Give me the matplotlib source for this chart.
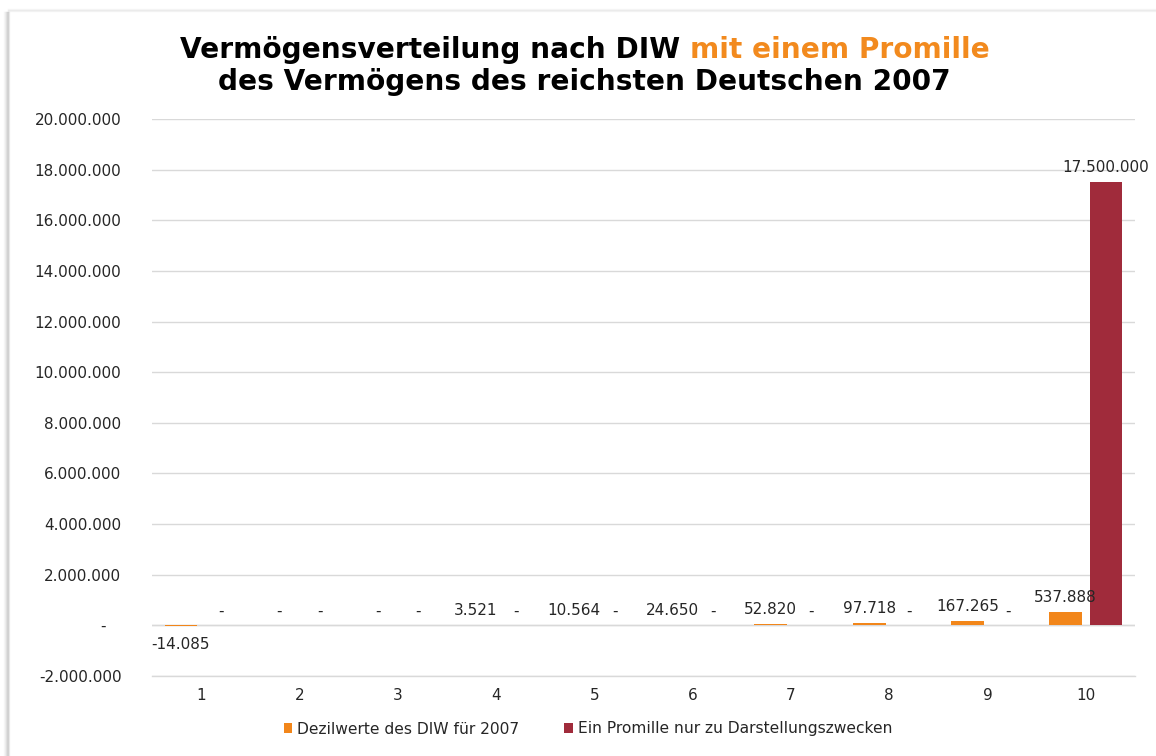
import matplotlib
matplotlib.use("Agg")
import matplotlib.pyplot as plt
import numpy as np
from matplotlib.lines import Line2D

categories = ["1", "2", "3", "4", "5", "6", "7", "8", "9", "10"]
diw_values = [-14085, 0, 0, 3521, 10564, 24650, 52820, 97718, 167265, 537888]
promille_values = [0, 0, 0, 0, 0, 0, 0, 0, 0, 17500000]
series_names = ["Dezilwerte des DIW für 2007", "Ein Promille nur zu Darstellungszwecken"]
title_line1_black = "Vermögensverteilung nach DIW "
title_line1_orange = "mit einem Promille"
title_line2 = "des Vermögens des reichsten Deutschen 2007"

ORANGE = "#F2861A"
RED = "#A02B3B"
TITLE_ORANGE = "#F28A1E"
GRID = "#D9D9D9"
TXT = "#262626"
FS = 11

plt.rcParams['font.family'] = ['DejaVu Sans']

W, H = 1156, 756
fig = plt.figure(figsize=(W / 100, H / 100), dpi=100)
fig.patch.set_facecolor("white")

def fx(px):
    return px / W

def fy(py):
    return 1 - py / H

# chart frame shadow
for x, a in [(4, 0.05), (5, 0.10), (6, 0.18), (7, 0.28), (8, 0.30), (9, 0.12)]:
    fig.add_artist(Line2D([fx(x), fx(x)], [fy(12), fy(756)], color="gray", alpha=a, lw=1.0))
for y, a in [(9, 0.06), (10, 0.12), (11, 0.08)]:
    fig.add_artist(Line2D([fx(8), fx(1156)], [fy(y), fy(y)], color="gray", alpha=a, lw=1.0))

ax = fig.add_axes([fx(152), fy(676), fx(1135) - fx(152), fy(119) - fy(676)])
x = np.arange(len(categories))
w = 0.335
off = 0.205
b1 = ax.bar(x - off, diw_values, w, color=ORANGE, label=series_names[0], zorder=3)
b2 = ax.bar(x + off, promille_values, w, color=RED, label=series_names[1], zorder=3)

def fmt(v):
    if v == 0:
        return "-"
    s = f"{abs(int(v)):,}".replace(",", ".")
    return ("-" if v < 0 else "") + s

pos_labels = [fmt(v) if v >= 0 else "" for v in diw_values]
neg_labels = [fmt(v) if v < 0 else "" for v in diw_values]
ax.bar_label(b1, labels=pos_labels, padding=5, fontsize=FS, color=TXT, zorder=4)
ax.bar_label(b1, labels=neg_labels, padding=8, fontsize=FS, color=TXT, zorder=4)
ax.bar_label(b2, labels=[fmt(v) for v in promille_values], padding=5, fontsize=FS, color=TXT, zorder=4)

ax.set_xlim(-0.5, len(categories) - 0.5)
ax.set_ylim(-2000000, 20000000)
yt = np.arange(-2000000, 20000001, 2000000)
ax.set_yticks(yt)
ax.set_yticklabels([fmt(v) if v != 0 else "-   " for v in yt])
ax.set_xticks(x)
ax.set_xticklabels(categories)
ax.tick_params(axis="both", length=0, labelsize=FS, colors=TXT)
ax.tick_params(axis="y", pad=22)
ax.tick_params(axis="x", pad=9)
for s in ax.spines.values():
    s.set_visible(False)
ax.grid(axis="y", color=GRID, lw=1.0, zorder=0)
ax.axhline(0, color=GRID, lw=1.0, zorder=1)
ax.axhline(-2000000, color=GRID, lw=1.0, zorder=1, clip_on=False)
ax.set_axisbelow(True)

# legend
fig.legend(handles=[b1, b2], labels=series_names, loc="center", bbox_to_anchor=(fx(588), fy(729)),
           ncol=2, frameon=False, fontsize=11.2, handlelength=0.55, handleheight=0.55,
           handletextpad=0.3, columnspacing=2.9, labelcolor=TXT)

# title
fs = 20.2
fig.canvas.draw()
r = fig.canvas.get_renderer()
t1 = fig.text(0, fy(50), title_line1_black, fontsize=fs, fontweight="bold", color="black", va="center", ha="left")
t2 = fig.text(0, fy(50), title_line1_orange, fontsize=fs, fontweight="bold", color=TITLE_ORANGE, va="center", ha="left")
w1 = t1.get_window_extent(r).width
w2 = t2.get_window_extent(r).width
start = 585 - (w1 + w2) / 2
t1.set_x(fx(start))
t2.set_x(fx(start + w1))
fig.text(fx(584), fy(82), title_line2, fontsize=fs, fontweight="bold", color="black", va="center", ha="center")

fig.savefig("out.png", dpi=100, facecolor="white")
